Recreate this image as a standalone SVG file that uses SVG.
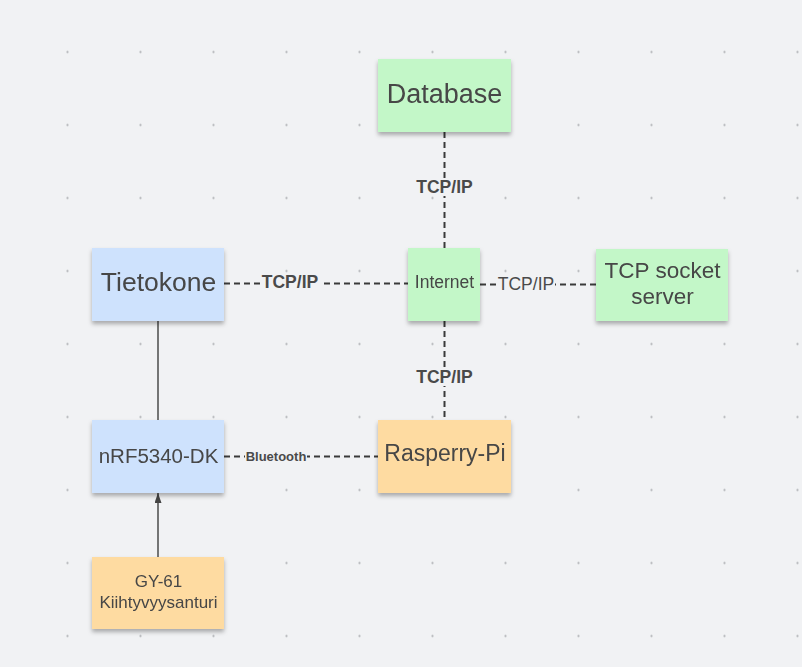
<svg xmlns="http://www.w3.org/2000/svg" width="802" height="667" viewBox="0 0 802 667">
<defs>
<pattern id="dots" x="31" y="15.5" width="73" height="73" patternUnits="userSpaceOnUse">
<circle cx="36.5" cy="36.5" r="1.1" fill="#a9abaf"/>
</pattern>
<filter id="sh" x="-10%" y="-10%" width="125%" height="135%">
<feDropShadow dx="0" dy="3" stdDeviation="2.2" flood-color="#000" flood-opacity="0.3"/>
</filter>
<marker id="arr" viewBox="0 0 10 7" refX="10" refY="3.5" markerWidth="10" markerHeight="7" markerUnits="userSpaceOnUse" orient="auto">
<path d="M0,0 L10,3.5 L0,7 Z" fill="#444"/>
</marker>
<style>
.node{filter:url(#sh)}
.green{fill:#c3f7c8}
.blue{fill:#cee2fd}
.orange{fill:#fedba1}
.t{font-family:"Liberation Sans",Arial,sans-serif;fill:#464646;text-anchor:middle}
.dash{stroke:#3a3a3a;stroke-width:2;stroke-dasharray:6 4;fill:none}
.solid{stroke:#555;stroke-width:1.6;fill:none}
.lbl{font-family:"Liberation Sans",Arial,sans-serif;fill:#4a4a4a;text-anchor:middle}
.bg{fill:#f1f2f4}
</style>
</defs>
<rect width="802" height="667" fill="#f1f2f4"/>
<rect width="802" height="667" fill="url(#dots)"/>
<g id="connectors">
<line class="dash" x1="444.5" y1="132" x2="444.5" y2="248"/>
<rect class="bg" x="413" y="178" width="62" height="18"/>
<text class="lbl" x="444.5" y="193" font-size="17.5" font-weight="bold">TCP/IP</text>
<line class="dash" x1="444.5" y1="321" x2="444.5" y2="420"/>
<rect class="bg" x="413" y="368" width="62" height="18"/>
<text class="lbl" x="444.5" y="383" font-size="17.5" font-weight="bold">TCP/IP</text>
<line class="dash" x1="224" y1="283.5" x2="408" y2="283.5"/>
<rect class="bg" x="261" y="274" width="59" height="18"/>
<text class="lbl" x="290" y="288" font-size="17.5" font-weight="bold">TCP/IP</text>
<line class="dash" x1="480" y1="284.5" x2="596" y2="284.5"/>
<rect class="bg" x="497" y="275" width="58" height="18"/>
<text class="lbl" x="526" y="289.5" font-size="17.5">TCP/IP</text>
<line class="dash" x1="224" y1="456.5" x2="378" y2="456.5"/>
<rect class="bg" x="245" y="448" width="62" height="15"/>
<text class="lbl" x="276" y="460.5" font-size="13" font-weight="bold">Bluetooth</text>
<line class="solid" x1="158" y1="321" x2="158" y2="420"/>
<line class="solid" x1="158" y1="557" x2="158" y2="493" marker-end="url(#arr)"/>
</g>
<g id="database" class="node">
<rect class="green" x="378" y="59" width="133" height="73"/>
<text class="t" x="444.5" y="102.5" font-size="27">Database</text>
</g>
<g id="tietokone" class="node">
<rect class="blue" x="92" y="248" width="132" height="73"/>
<text class="t" x="158.5" y="291" font-size="26.5">Tietokone</text>
</g>
<g id="internet" class="node">
<rect class="green" x="408" y="248" width="72" height="73"/>
<text class="t" x="444.5" y="287.5" font-size="17.5">Internet</text>
</g>
<g id="tcp-socket-server" class="node">
<rect class="green" x="596" y="249" width="132" height="72"/>
<text class="t" x="662.5" y="278" font-size="22.5">TCP socket</text>
<text class="t" x="662.5" y="304" font-size="22.5">server</text>
</g>
<g id="nrf5340-dk" class="node">
<rect class="blue" x="92" y="420" width="132" height="73"/>
<text class="t" x="158.5" y="462.5" font-size="20.5">nRF5340-DK</text>
</g>
<g id="rasperry-pi" class="node">
<rect class="orange" x="378" y="420" width="133" height="73"/>
<text class="t" x="445" y="461" font-size="23">Rasperry-Pi</text>
</g>
<g id="gy-61" class="node">
<rect class="orange" x="92" y="557" width="132" height="72"/>
<text class="t" x="158.5" y="587" font-size="17">GY-61</text>
<text class="t" x="158.5" y="608" font-size="17">Kiihtyvyysanturi</text>
</g>
</svg>
